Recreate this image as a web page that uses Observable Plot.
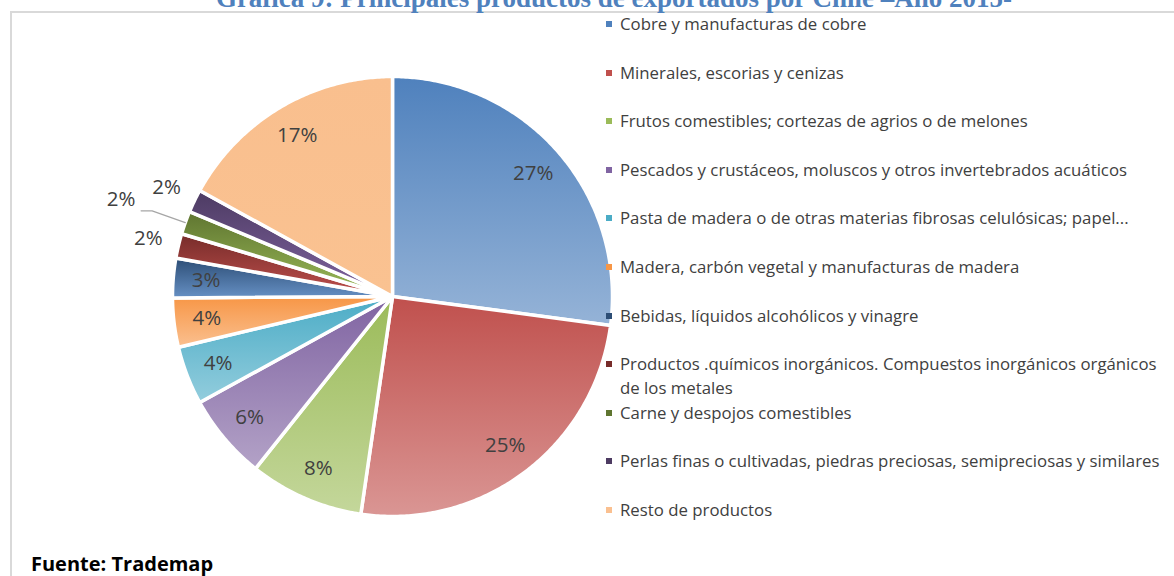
<!DOCTYPE html>
<html><head><meta charset="utf-8">
<script src="https://cdn.jsdelivr.net/npm/d3@7"></script>
<script src="https://cdn.jsdelivr.net/npm/@observablehq/plot@0.6"></script>
<style>
body{margin:0;background:#fff;}
#wrap{position:relative;width:1174px;height:576px;overflow:hidden;background:#fff;}
#frame{position:absolute;left:10px;top:11px;width:1200px;height:600px;border-top:2px solid #d9d9d9;border-left:2px solid #d9d9d9;}
#title{position:absolute;left:0;width:1228px;top:-17px;text-align:center;font-family:"Liberation Serif","Times New Roman",serif;font-weight:bold;font-size:27px;color:#4f81bd;white-space:nowrap;}
#chart{position:absolute;left:0;top:0;}
#legend{position:absolute;left:604px;top:0;font-family:"Open Sans",Lato,sans-serif;font-size:16.8px;color:#404040;}
.li{position:absolute;left:0;white-space:nowrap;line-height:24px;}
.li .sw{position:absolute;left:2px;top:9px;width:6px;height:6px;}
.li .tx{position:absolute;left:16px;top:0;}
#source{position:absolute;left:31px;top:550px;font-family:"Open Sans",Lato,sans-serif;font-weight:bold;font-size:20px;color:#000;}
</style></head><body>
<div id="wrap">
<div id="frame"></div>
<div id="title"></div>
<div id="chart"></div>
<div id="legend"></div>
<div id="source"></div>
</div>
<script>
const titleText = "Grafica  9: Principales productos de exportados por Chile \u2013Año 2015-";
const sourceText = "Fuente: Trademap";
const categories = [
  "Cobre y manufacturas de cobre",
  "Minerales, escorias y cenizas",
  "Frutos comestibles; cortezas de agrios o de melones",
  "Pescados y crustáceos, moluscos y otros invertebrados acuáticos",
  "Pasta de madera o de otras materias fibrosas celulósicas; papel...",
  "Madera, carbón vegetal y manufacturas de madera",
  "Bebidas, líquidos alcohólicos y vinagre",
  "Productos .químicos inorgánicos. Compuestos inorgánicos orgánicos de los metales",
  "Carne y despojos comestibles",
  "Perlas finas o cultivadas, piedras preciosas, semipreciosas y similares",
  "Resto de productos"
];
const values = [27.1, 25.2, 8.4, 6.3, 4.3, 3.6, 2.9, 1.8, 1.7, 1.7, 17.0];
const legendColors = ["#4f81bd","#c0504d","#9bbb59","#8064a2","#4bacc6","#f79646","#2c4d75","#772c2a","#5f7530","#4d3b62","#fac090"];
const topColors    = ["#4f81bd","#c0504d","#9bbb59","#8064a2","#4bacc6","#f79646","#2c4d75","#772c2a","#5f7530","#4d3b62","#f9bf8e"];
const bottomColors = ["#95b3d7","#da9694","#c4d79b","#b3a2c7","#93cddd","#fac090","#6690c4","#c0504d","#9bbb59","#8064a2","#fac291"];

// pie geometry from the data
const arcs = d3.pie().sort(null).value(d => d)(values);
const slices = arcs.map((a, i) => {
  const n = Math.max(4, Math.ceil((a.endAngle - a.startAngle) / 0.01));
  const pts = [{x: 0, y: 0}];
  for (let k = 0; k <= n; k++) {
    const t = a.startAngle + (a.endAngle - a.startAngle) * k / n;
    pts.push({x: Math.sin(t), y: Math.cos(t)});
  }
  return pts;
});
const labels = arcs.map((a, i) => {
  const mid = (a.startAngle + a.endAngle) / 2;
  const small = values[i] < 2.5;
  let r = small ? 1.14 : 0.85;
  if (i === 8) r = 1.31;
  return {x: r * Math.sin(mid), y: r * Math.cos(mid), text: Math.round(values[i]) + "%", mid};
});
const lead = labels[8];
const leader = [
  {x: 1.0 * Math.sin(lead.mid), y: 1.0 * Math.cos(lead.mid)},
  {x: 1.16 * Math.sin(lead.mid), y: 1.16 * Math.cos(lead.mid)},
  {x: 1.16 * Math.sin(lead.mid) - 0.05, y: 1.16 * Math.cos(lead.mid)}
];

const marks = slices.map((pts, i) => Plot.line(pts, {
  x: "x", y: "y", curve: "linear-closed",
  fill: `url(#grad${i})`, stroke: "white", strokeWidth: 3.5, strokeLinejoin: "round"
}));
marks.push(Plot.line(leader, {x: "x", y: "y", stroke: "#a6a6a6", strokeWidth: 1.3}));
marks.push(Plot.text(labels, {x: "x", y: "y", text: "text", fill: "#404040", fontSize: 20.5, fontFamily: "'Open Sans', Lato, sans-serif"}));

const plot = Plot.plot({
  width: 620, height: 576,
  marginLeft: 172, marginRight: 8, marginTop: 76, marginBottom: 60,
  x: {domain: [-1, 1], axis: null},
  y: {domain: [-1, 1], axis: null},
  style: {background: "transparent", overflow: "visible"},
  marks
});
const svg = d3.select(plot);
const defs = svg.insert("defs", ":first-child");
topColors.forEach((c, i) => {
  const g = defs.append("linearGradient").attr("id", "grad" + i)
    .attr("x1", 0).attr("y1", 0).attr("x2", 0).attr("y2", 1);
  g.append("stop").attr("offset", "0%").attr("stop-color", c);
  g.append("stop").attr("offset", "100%").attr("stop-color", bottomColors[i]);
});
document.getElementById("chart").appendChild(plot);

document.getElementById("title").textContent = titleText;
document.getElementById("source").textContent = sourceText;
const legend = document.getElementById("legend");
categories.forEach((c, i) => {
  const d = document.createElement("div");
  d.className = "li";
  d.style.top = (12 + i * 48.6) + "px";
  const sw = document.createElement("span"); sw.className = "sw"; sw.style.background = legendColors[i];
  const tx = document.createElement("span"); tx.className = "tx";
  if (i === 7) { tx.innerHTML = "Productos .químicos inorgánicos. Compuestos inorgánicos orgánicos<br>de los metales"; }
  else tx.textContent = c;
  d.appendChild(sw); d.appendChild(tx);
  legend.appendChild(d);
});
</script>
</body></html>
